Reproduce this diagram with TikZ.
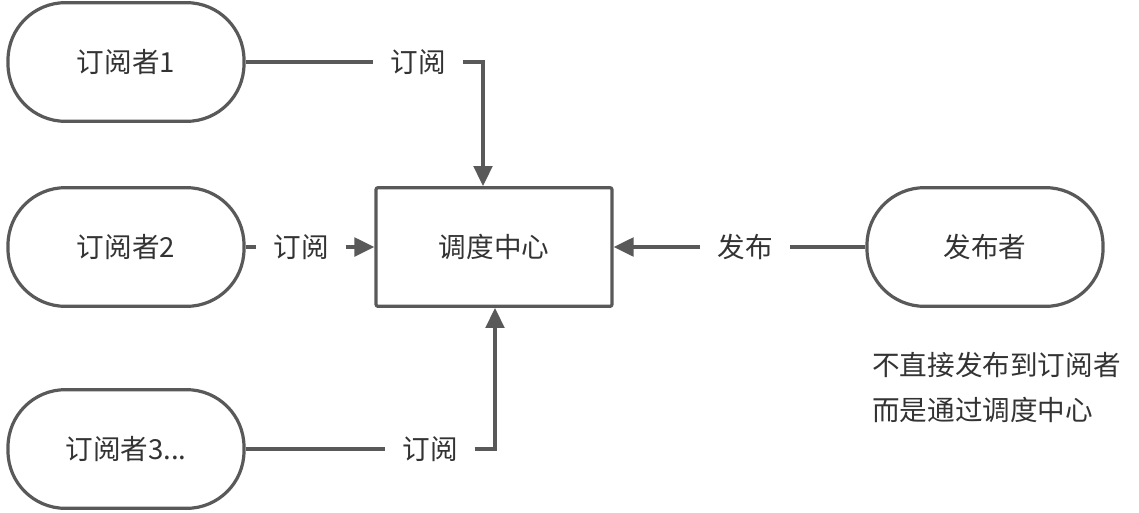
\documentclass[tikz,border=0pt]{standalone}
\usepackage{fontspec}
\setmainfont{Noto Sans CJK SC}
\usetikzlibrary{arrows.meta}
\definecolor{edgegray}{HTML}{595959}
\definecolor{textgray}{HTML}{333333}
\tikzset{
  party/.style={draw=edgegray, line width=2.4pt, rounded corners=43pt,
    minimum width=177pt, minimum height=89pt, text=textgray},
  hubbox/.style={draw=edgegray, line width=2.4pt, rounded corners=1.5pt,
    minimum width=177pt, minimum height=89pt, text=textgray},
  tag/.style={text=textgray, inner xsep=12.5pt, inner ysep=2pt},
  conn/.style={draw=edgegray, line width=2.4pt},
  arr/.style={conn, -{Triangle[length=15pt, width=14pt]}},
}
\begin{document}
\begin{tikzpicture}[x=0.75pt, y=-0.75pt, font=\fontsize{20.7}{24}\selectfont]
  \useasboundingbox (0,0) rectangle (1139,512);
  % participants
  \node[party] (sub1) at (126,62) {订阅者1};
  \node[party] (sub2) at (126,247) {订阅者2};
  \node[party] (sub3) at (126,449) {订阅者3...};
  \node[hubbox] (hub) at (494,247) {调度中心};
  \node[party] (pub) at (985,247) {发布者};
  % labels on the connectors
  \node[tag] (l1) at (418,62) {订阅};
  \node[tag] (l2) at (301,247) {订阅};
  \node[tag] (l3) at (430,449) {订阅};
  \node[tag] (l4) at (745,247) {发布};
  \coordinate (t1) at (483,185);
  \coordinate (t3) at (495,309);
  % connectors
  \draw[conn] (sub1) -- (l1);
  \draw[arr] (l1.east) -| (hub.north -| t1);
  \draw[conn] (sub2) -- (l2);
  \draw[arr] (l2) -- (hub);
  \draw[conn] (sub3) -- (l3);
  \draw[arr] (l3.east) -| (hub.south -| t3);
  \draw[conn] (pub) -- (l4);
  \draw[arr] (l4) -- (hub);
  % note
  \node[text=textgray, anchor=west, align=left, inner sep=0pt,
    font=\fontsize{20.7}{33.75}\selectfont] (note) at (872,387)
    {不直接发布到订阅者\\而是通过调度中心};
\end{tikzpicture}
\end{document}
